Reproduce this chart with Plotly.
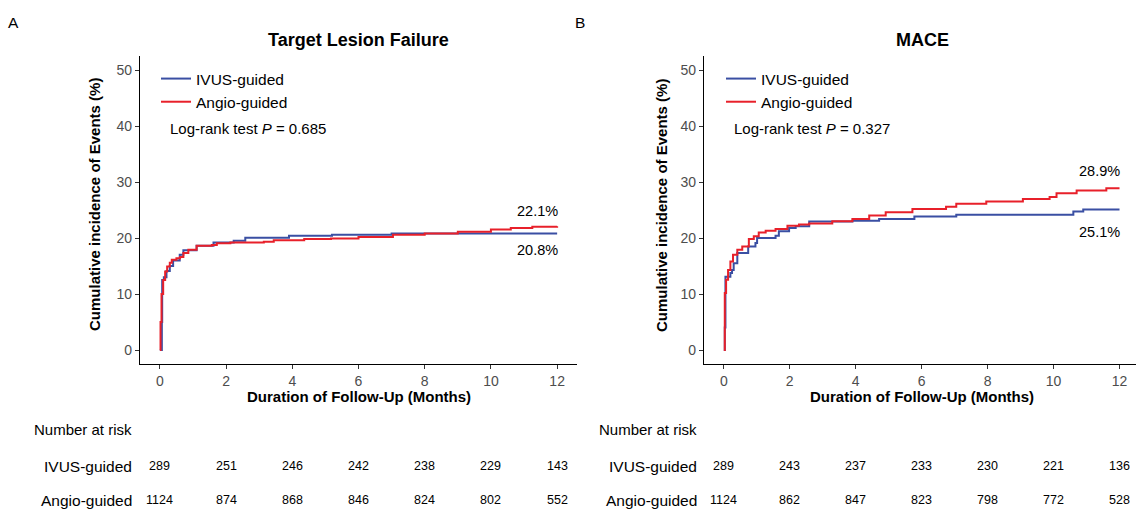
import plotly.graph_objects as go

W, H = 1136, 509

# ---------------- data ----------------
groups = ["IVUS-guided", "Angio-guided"]
colors = ["#3A4FA3", "#E8202A"]

tlf_ivus_t = [0, 0.06, 0.07, 0.12, 0.2, 0.3, 0.4, 0.6, 0.71, 1.11, 1.62, 2.23, 2.58, 3.9, 5.2, 7.0, 12]
tlf_ivus_v = [0, 5.0, 12.5, 13.0, 14.1, 15.0, 16.0, 17.0, 17.8, 18.6, 19.2, 19.5, 20.05, 20.4, 20.6, 20.8, 20.8]

tlf_angio_t = [0, 0.02, 0.05, 0.1, 0.16, 0.22, 0.3, 0.36, 0.5, 0.61, 0.71, 0.86, 1.11, 1.57, 1.72, 2.13,
               3.14, 3.44, 4.36, 5.17, 6.0, 7.04, 8.0, 9.0, 10.0, 10.6, 11.25, 12]
tlf_angio_v = [0, 5.0, 10.0, 12.5, 14.0, 14.9, 15.6, 16.1, 16.4, 16.6, 17.3, 17.9, 18.6, 18.75, 19.05, 19.2,
               19.35, 19.6, 19.8, 19.9, 20.2, 20.6, 20.8, 21.1, 21.5, 21.8, 22.0, 22.1]

mace_ivus_t = [0, 0.03, 0.05, 0.2, 0.25, 0.3, 0.41, 0.74, 0.96, 1.01, 1.57, 1.67, 1.98, 2.18, 2.59,
               3.9, 4.71, 5.78, 7.05, 10.6, 10.9, 12]
mace_ivus_v = [0, 4.0, 13.1, 13.75, 14.3, 15.5, 17.3, 18.5, 19.1, 20.0, 20.4, 21.2, 21.8, 22.1, 22.96,
               23.1, 23.4, 23.86, 24.15, 24.75, 25.1, 25.1]

mace_angio_t = [0, 0.03, 0.07, 0.13, 0.2, 0.28, 0.41, 0.56, 0.76, 0.91, 1.06, 1.27, 1.57, 1.93, 2.28, 2.59,
                3.29, 3.9, 4.41, 4.91, 5.72, 6.74, 7.05, 7.96, 9.07, 9.88, 10.09, 10.7, 11.6, 12]
mace_angio_v = [0, 10.2, 12.55, 14.3, 15.8, 17.0, 17.9, 18.5, 19.8, 20.3, 21.0, 21.3, 21.6, 22.2, 22.4, 22.6,
                23.0, 23.4, 24.0, 24.6, 25.2, 25.6, 26.1, 26.5, 26.96, 27.3, 28.0, 28.5, 28.9, 28.9]

risk_times = [0, 2, 4, 6, 8, 10, 12]
tlf_risk_ivus = [289, 251, 246, 242, 238, 229, 143]
tlf_risk_angio = [1124, 874, 868, 846, 824, 802, 552]
mace_risk_ivus = [289, 243, 237, 233, 230, 221, 136]
mace_risk_angio = [1124, 862, 847, 823, 798, 772, 528]

panel_titles = ["Target Lesion Failure", "MACE"]
panel_letters = ["A", "B"]
pvalues = ["0.685", "0.327"]
end_labels = [("22.1%", 22.1), ("20.8%", 20.8), ("28.9%", 28.9), ("25.1%", 25.1)]

# ---------------- figure ----------------
FONT = "Arial, 'Liberation Sans', Helvetica, sans-serif"
fig = go.Figure()

panels = [
    ("x", "y", [(tlf_ivus_t, tlf_ivus_v), (tlf_angio_t, tlf_angio_v)], [tlf_risk_ivus, tlf_risk_angio], "legend"),
    ("x2", "y2", [(mace_ivus_t, mace_ivus_v), (mace_angio_t, mace_angio_v)], [mace_risk_ivus, mace_risk_angio], "legend2"),
]

for xa, ya, series, risks, leg in panels:
    for (t, v), name, col in zip(series, groups, colors):
        fig.add_trace(go.Scatter(
            x=t, y=v, mode="lines", line=dict(color=col, width=2, shape="hv"),
            name=name, xaxis=xa, yaxis=ya, legend=leg, showlegend=True,
            hoverinfo="x+y+name"))

def px_x(p):
    return p / W

def px_y(p):
    return 1 - p / H

ydom = [px_y(364), px_y(56)]
axis_common = dict(showline=True, linecolor="black", linewidth=1.3, ticks="outside", ticklen=4,
                   tickcolor="#333333", tickwidth=1, showgrid=False, zeroline=False,
                   tickfont=dict(family=FONT, size=14, color="#4D4D4D"))

fig.update_layout(
    width=W, height=H, margin=dict(l=0, r=0, t=0, b=0),
    paper_bgcolor="white", plot_bgcolor="white",
    font=dict(family=FONT, color="black"),
    xaxis=dict(domain=[px_x(140), px_x(577)], range=[-0.6, 12.6], tickvals=risk_times, anchor="y", **axis_common),
    yaxis=dict(domain=ydom, range=[-2.5, 52.5], tickvals=[0, 10, 20, 30, 40, 50], anchor="x", **axis_common),
    xaxis2=dict(domain=[px_x(704), 1.0], range=[-0.6, 12.5], tickvals=risk_times, anchor="y2", **axis_common),
    yaxis2=dict(domain=ydom, range=[-2.5, 52.5], tickvals=[0, 10, 20, 30, 40, 50], anchor="x2", **axis_common),
    legend=dict(x=px_x(156), y=px_y(62), xanchor="left", yanchor="top", bgcolor="rgba(0,0,0,0)",
                font=dict(family=FONT, size=15.5, color="black"), itemwidth=30, tracegroupgap=0),
    legend2=dict(x=px_x(721), y=px_y(62), xanchor="left", yanchor="top", bgcolor="rgba(0,0,0,0)",
                 font=dict(family=FONT, size=15.5, color="black"), itemwidth=30, tracegroupgap=0),
)

ann = []
centers = [358, 922]
yaxis_title_x = [95, 662]
label_right = [134, 699]
for i in range(2):
    xa = "x" if i == 0 else "x2"
    ya = "y" if i == 0 else "y2"
    # panel letter
    ann.append(dict(text=panel_letters[i], x=px_x(14 if i == 0 else 580), y=px_y(22), xref="paper", yref="paper",
                    showarrow=False, xanchor="center", yanchor="middle", font=dict(size=15.5)))
    # title
    ann.append(dict(text="<b>%s</b>" % panel_titles[i], x=px_x(centers[i]), y=px_y(40), xref="paper", yref="paper",
                    showarrow=False, xanchor="center", yanchor="middle", font=dict(size=18)))
    # y title
    ann.append(dict(text="<b>Cumulative incidence of Events (%)</b>", x=px_x(yaxis_title_x[i]), y=px_y(205),
                    xref="paper", yref="paper", showarrow=False, textangle=-90,
                    xanchor="center", yanchor="middle", font=dict(size=15)))
    # x title
    ann.append(dict(text="<b>Duration of Follow-Up (Months)</b>", x=6, y=px_y(396), xref=xa, yref="paper",
                    showarrow=False, xanchor="center", yanchor="middle", font=dict(size=15)))
    # log-rank
    ann.append(dict(text="Log-rank test <i>P</i> = %s" % pvalues[i], x=0.24, y=39.6, xref=xa, yref=ya,
                    showarrow=False, xanchor="left", yanchor="middle", font=dict(size=15)))
    # end labels
    hi, lo = end_labels[2 * i], end_labels[2 * i + 1]
    ann.append(dict(text=hi[0], x=11.4, y=hi[1] + 2.7 if i == 0 else hi[1] + 3.1, xref=xa, yref=ya,
                    showarrow=False, xanchor="center", yanchor="middle", font=dict(size=14.5)))
    ann.append(dict(text=lo[0], x=11.4, y=lo[1] - 2.9 if i == 0 else lo[1] - 4.0, xref=xa, yref=ya,
                    showarrow=False, xanchor="center", yanchor="middle", font=dict(size=14.5)))
    # number at risk table
    ann.append(dict(text="Number at risk", x=px_x(label_right[i]), y=px_y(429), xref="paper", yref="paper",
                    showarrow=False, xanchor="right", yanchor="middle", font=dict(size=15)))
    risks = panels[i][3]
    for r, (name, vals) in enumerate(zip(groups, risks)):
        yy = px_y(466 if r == 0 else 500)
        ann.append(dict(text=name, x=px_x(label_right[i]), y=yy, xref="paper", yref="paper",
                        showarrow=False, xanchor="right", yanchor="middle", font=dict(size=15.5)))
        for t, n in zip(risk_times, vals):
            ann.append(dict(text=str(n), x=t, y=yy, xref=xa, yref="paper", showarrow=False,
                            xanchor="center", yanchor="middle", font=dict(size=12.5)))

fig.update_layout(annotations=ann)
# remove the default 8px page margin so the 1136x509 figure fills the window exactly
fig.write_html("out.html",
               config={"displayModeBar": False},
               post_script="document.body.style.margin='0';document.body.style.overflow='hidden';")
